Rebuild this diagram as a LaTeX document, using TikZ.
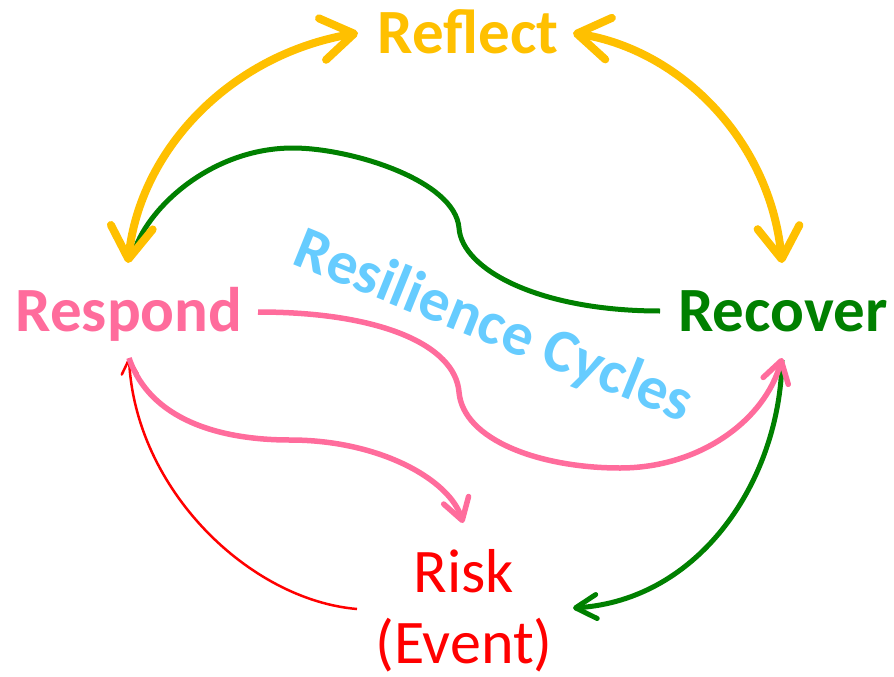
\documentclass[tikz,border=0pt]{standalone}
\usepackage{fontspec}
\setmainfont{Carlito}
\usetikzlibrary{arrows.meta}

\definecolor{reflectgold}{HTML}{FFC000}
\definecolor{respondpink}{HTML}{FF6C9C}
\definecolor{recovergreen}{HTML}{008000}
\definecolor{cyclesblue}{HTML}{66CCFF}
\definecolor{riskred}{HTML}{FF0000}

\begin{document}
\begin{tikzpicture}[
      x=1pt, y=-1pt,
      lbl/.style={inner sep=0pt, anchor=base,
      font=\fontsize{63}{70}\selectfont\bfseries},
      goldline/.style={draw=reflectgold, line width=8pt,
      >={Straight Barb[length=32pt, width=42pt, line cap=round, line join=round]}},
      greenline/.style={draw=recovergreen, line width=5pt,
      >={Straight Barb[length=21pt, width=24pt, line cap=round, line join=round]}},
      pinkline/.style={draw=respondpink, line width=5.5pt,
      >={Straight Barb[length=21pt, width=26pt, line cap=round, line join=round]}},
      redline/.style={draw=riskred, line width=2.5pt,
      >={Straight Barb[length=15pt, width=16pt, line cap=round, line join=round]}}
    ]
    \useasboundingbox (0,0) rectangle (894,677);

    % Stage labels
    \node[lbl, text=reflectgold] (reflect) at (468,53) {Reflect};
    \node[lbl, text=respondpink] (respond) at (129,331) {Respond};
    \node[lbl, text=recovergreen] (recover) at (783,331) {Recover};
    \node[inner sep=0pt, anchor=base, align=center, text=riskred,
    font=\fontsize{62}{71}\selectfont] (risk) at (464,663) {Risk\\(Event)};
    \node[lbl, text=cyclesblue, rotate=-22, font=\fontsize{61}{70}\selectfont\bfseries]
    (cycles) at (487,343) {Resilience Cycles};

    % Recover -> Respond
    \draw[greenline] ([shift={(-123,-20)}]recover.base)
    .. controls (540,311) and (462,270) .. (459,228)
    .. controls (455,180) and (350,148) .. (293,148)
    .. controls (210,148) and (145,210) .. ([shift={(4,-76)}]respond.base);

    % Reflect <-> Respond, Reflect <-> Recover
    \draw[goldline, <->] ([shift={(-1,-68)}]respond.base)
    .. controls (140,150) and (230,55) .. ([shift={(-110,-20)}]reflect.base);
    \draw[goldline, <->] ([shift={(105,-20)}]reflect.base)
    .. controls (680,50) and (770,140) .. ([shift={(-1,-68)}]recover.base);

    % Recover -> Risk
    \draw[greenline, ->] ([shift={(-1,29)}]recover.base)
    .. controls (780,480) and (700,600) .. ([shift={(109,-55)}]risk.base);

    % Risk -> Respond
    \draw[redline, ->] ([shift={(-107,-54)}]risk.base)
    .. controls (250,600) and (135,490) .. ([shift={(0,27)}]respond.base);

    % Respond -> Recover, Respond -> Risk
    \draw[pinkline, ->] ([shift={(129,-19)}]respond.base)
    .. controls (380,312) and (455,345) .. (459,392)
    .. controls (463,440) and (540,468) .. (620,468)
    .. controls (700,468) and (765,420) .. ([shift={(-1,27)}]recover.base);
    \draw[pinkline, ->] ([shift={(0,27)}]respond.base)
    .. controls (150,420) and (220,440) .. (290,440)
    .. controls (380,440) and (450,480) .. ([shift={(-1,-140)}]risk.base);

  \end{tikzpicture}
\end{document}
